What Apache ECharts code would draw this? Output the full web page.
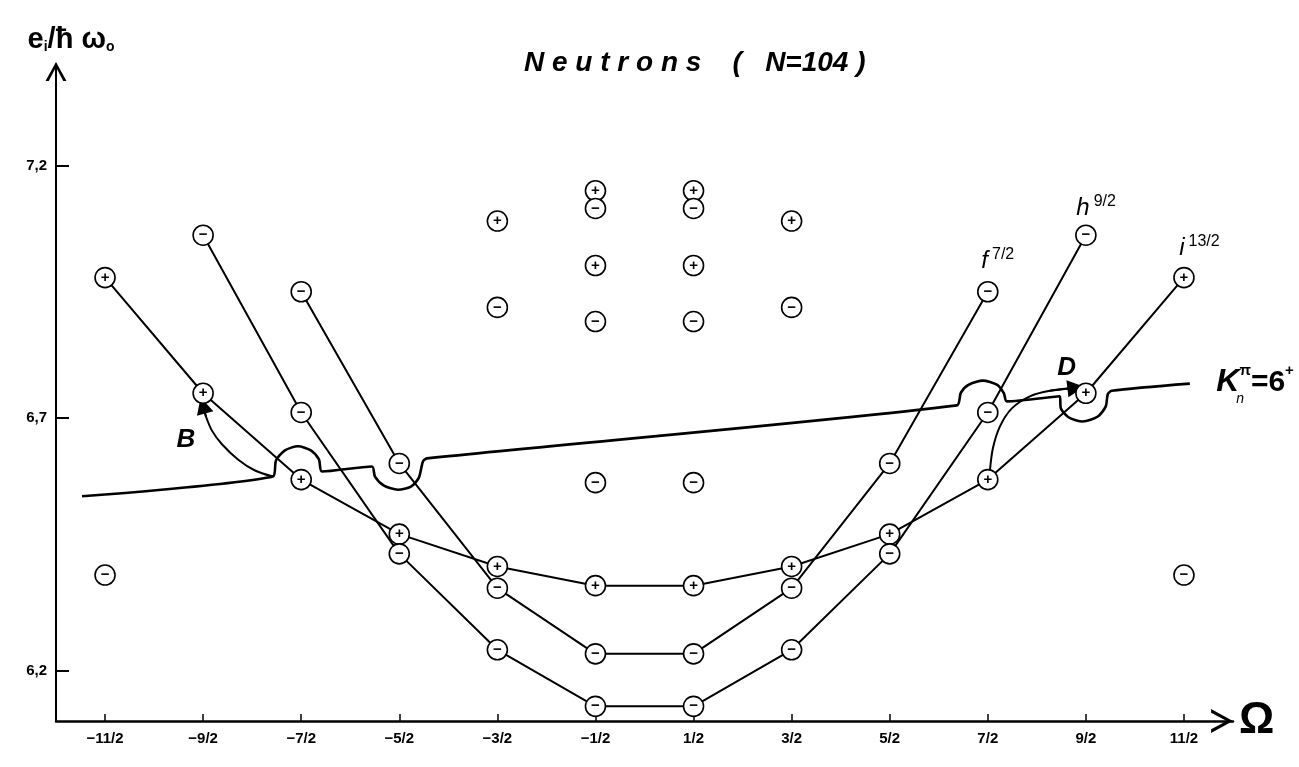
<!DOCTYPE html>
<html><head><meta charset="utf-8">
<script src="https://cdn.jsdelivr.net/npm/echarts@6/dist/echarts.min.js"></script>
<style>html,body{margin:0;padding:0;background:#fff}#c{width:1299px;height:767px}</style>
</head><body><div id="c"></div><script>
// ---- axis ticks ----
const omegaTicks = [-5.5, -4.5, -3.5, -2.5, -1.5, -0.5, 0.5, 1.5, 2.5, 3.5, 4.5, 5.5];
const omegaTickLabels = ['−11/2', '−9/2', '−7/2', '−5/2', '−3/2', '−1/2', '1/2', '3/2', '5/2', '7/2', '9/2', '11/2'];
const energyTicks = [6.2, 6.7, 7.2];
const energyTickLabels = ['6,2', '6,7', '7,2'];

// ---- orbitals (energy e_i / ħω0 versus Ω) ----
const i13Omega = [-5.5, -4.5, -3.5, -2.5, -1.5, -0.5, 0.5, 1.5, 2.5, 3.5, 4.5, 5.5];
const i13Energy = [6.978, 6.749, 6.578, 6.470, 6.406, 6.368, 6.368, 6.406, 6.470, 6.578, 6.749, 6.978];
const h9Omega = [-4.5, -3.5, -2.5, -1.5, -0.5, 0.5, 1.5, 2.5, 3.5, 4.5];
const h9Energy = [7.062, 6.711, 6.431, 6.241, 6.129, 6.129, 6.241, 6.431, 6.711, 7.062];
const f7Omega = [-3.5, -2.5, -1.5, -0.5, 0.5, 1.5, 2.5, 3.5];
const f7Energy = [6.950, 6.610, 6.363, 6.233, 6.233, 6.363, 6.610, 6.950];

// ---- other single-particle levels ----
const isoOmega  = [-5.5, -1.5, -1.5, -0.5, -0.5, -0.5, -0.5, -0.5, 0.5, 0.5, 0.5, 0.5, 0.5, 1.5, 1.5, 5.5];
const isoEnergy = [6.389, 7.090, 6.919, 7.150, 7.115, 7.002, 6.891, 6.572, 7.150, 7.115, 7.002, 6.891, 6.572, 7.090, 6.919, 6.389];
const isoParity = ['−', '+', '−', '+', '−', '+', '−', '−', '+', '−', '+', '−', '−', '+', '−', '−'];

// ---- K^π_n = 6+ line (with bumps around crossings) ----
const kOmega  = [-5.735, -3.788, -3.757, -3.666, -3.533, -3.401, -3.319, -3.288, -2.779, -2.748, -2.656, -2.514, -2.381, -2.300, -2.259, -2.218,
                 3.185, 3.225, 3.307, 3.450, 3.592, 3.664, 3.694, 4.234, 4.245, 4.327, 4.469, 4.622, 4.703, 4.723, 4.764, 5.560];
const kEnergy = [6.545, 6.584, 6.616, 6.636, 6.644, 6.636, 6.618, 6.594, 6.604, 6.584, 6.566, 6.558, 6.564, 6.582, 6.614, 6.620,
                 6.725, 6.750, 6.766, 6.774, 6.766, 6.749, 6.733, 6.743, 6.719, 6.701, 6.693, 6.703, 6.723, 6.747, 6.754, 6.768];

// ---- arrows B and D ----
const bOmega  = [-3.788, -3.971, -4.145, -4.308, -4.410, -4.471, -4.502];
const bEnergy = [6.584, 6.596, 6.618, 6.648, 6.675, 6.703, 6.725];
const dOmega  = [3.521, 3.552, 3.623, 3.745, 3.929, 4.133, 4.398];
const dEnergy = [6.594, 6.640, 6.683, 6.719, 6.743, 6.754, 6.760];

// ---- annotations ----
const annoOmega  = [3.439, 4.408, 5.457, -4.767, 4.214, 5.835, 6.039];
const annoEnergy = [6.986, 7.091, 7.012, 6.630, 6.772, 6.739, 6.723];
const annoText = ['{it|f}{fr|7/2}', '{it|h}{fr|9/2}', '{it|i}{fr|13/2}', '{bd|B}', '{bd|D}', '{kb|K}{ks|π}{ke|=6}{ks|+}', '{kn|n}'];

const FONT = 'Liberation Sans';
const toPairs = (xs, ys) => xs.map((x, i) => [x, ys[i]]);

const levelPoints = [];
i13Omega.forEach((o, i) => levelPoints.push([o, i13Energy[i], '+']));
h9Omega.forEach((o, i) => levelPoints.push([o, h9Energy[i], '−']));
f7Omega.forEach((o, i) => levelPoints.push([o, f7Energy[i], '−']));
isoOmega.forEach((o, i) => levelPoints.push([o, isoEnergy[i], isoParity[i]]));

const chevron = 'path://M0,20 L11,0 L22,20 L18.6,20 L11,5.6 L3.4,20 Z';
const lineStyle = { color: '#000', width: 2 };

const chart = echarts.init(document.getElementById('c'), null, { renderer: 'canvas' });
chart.setOption({
  backgroundColor: '#fff',
  animation: false,
  title: {
    text: 'N e u t r o n s    (   N=104 )',
    left: 519, top: 44,
    textStyle: { fontFamily: FONT, fontSize: 28, fontWeight: 'bold', fontStyle: 'italic', color: '#000' }
  },
  grid: { left: 56, right: 66, top: 64.5, bottom: 46 },
  xAxis: {
    type: 'value', min: -6, max: 6,
    name: 'Ω', nameLocation: 'end', nameGap: 6,
    nameTextStyle: { fontFamily: FONT, fontSize: 44, fontWeight: 'bold', color: '#000', verticalAlign: 'middle', padding: [0, 0, 6, 0] },
    axisLine: { onZero: false, lineStyle: { color: '#000', width: 2.5 }, symbol: ['none', chevron], symbolSize: [24, 23], symbolOffset: [0, -11] },
    axisTick: { show: true, inside: true, length: 7, lineStyle: { color: '#000', width: 1.5 }, customValues: omegaTicks },
    axisLabel: { customValues: omegaTicks, margin: 10, fontFamily: FONT, fontSize: 15, fontWeight: 'bold', color: '#000',
      formatter: v => omegaTickLabels[omegaTicks.indexOf(v)] },
    splitLine: { show: false }
  },
  yAxis: {
    type: 'value', min: 6.1, max: 7.4,
    name: '{b|e}{s|i}{b|/ħ ω}{s|o}', nameLocation: 'end', nameGap: 10,
    nameTextStyle: { align: 'center', padding: [0, 0, 0, 30],
      rich: {
        b: { fontFamily: FONT, fontSize: 29, fontWeight: 'bold', color: '#000', lineHeight: 32, verticalAlign: 'bottom' },
        s: { fontFamily: FONT, fontSize: 14, fontWeight: 'bold', color: '#000', lineHeight: 12, verticalAlign: 'bottom' }
      } },
    axisLine: { onZero: false, lineStyle: { color: '#000', width: 2 }, symbol: ['none', chevron], symbolSize: [21, 20], symbolOffset: [0, -7] },
    axisTick: { show: true, inside: true, length: 13, lineStyle: { color: '#000', width: 2 }, customValues: energyTicks },
    axisLabel: { customValues: energyTicks, margin: 9, fontFamily: FONT, fontSize: 15, fontWeight: 'bold', color: '#000',
      formatter: v => energyTickLabels[energyTicks.indexOf(v)] },
    splitLine: { show: false }
  },
  series: [
    { name: 'i13/2', type: 'line', data: toPairs(i13Omega, i13Energy), symbol: 'none', lineStyle, z: 2 },
    { name: 'h9/2', type: 'line', data: toPairs(h9Omega, h9Energy), symbol: 'none', lineStyle, z: 2 },
    { name: 'f7/2', type: 'line', data: toPairs(f7Omega, f7Energy), symbol: 'none', lineStyle, z: 2 },
    { name: 'K=6+', type: 'line', data: toPairs(kOmega, kEnergy), symbol: 'none', smooth: 0.25,
      lineStyle: { color: '#000', width: 2.6 }, z: 2 },
    { name: 'B', type: 'line', data: toPairs(bOmega, bEnergy), symbol: 'none', smooth: 0.3, lineStyle, z: 2 },
    { name: 'D', type: 'line', data: toPairs(dOmega, dEnergy), symbol: 'none', smooth: 0.3, lineStyle, z: 2 },
    { name: 'arrowheads', type: 'lines', coordinateSystem: 'cartesian2d', symbol: ['none', 'triangle'], symbolSize: 17,
      lineStyle: { color: '#000', width: 2, opacity: 1 }, itemStyle: { color: '#000' }, z: 3,
      data: [
        { coords: [[bOmega[bOmega.length - 2], bEnergy[bEnergy.length - 2]], [bOmega[bOmega.length - 1], bEnergy[bEnergy.length - 1]]] },
        { coords: [[dOmega[dOmega.length - 2], dEnergy[dEnergy.length - 2]], [dOmega[dOmega.length - 1], dEnergy[dEnergy.length - 1]]] }
      ] },
    { name: 'levels', type: 'scatter', data: levelPoints, symbol: 'circle', symbolSize: 20, z: 5,
      itemStyle: { color: '#fff', borderColor: '#000', borderWidth: 1.6, opacity: 1 },
      label: { show: true, position: 'inside', formatter: p => p.value[2], fontFamily: FONT, fontSize: 15, fontWeight: 'bold', color: '#000' } },
    { name: 'annotations', type: 'scatter', clip: false, data: toPairs(annoOmega, annoEnergy), symbol: 'circle', symbolSize: 1, z: 6,
      itemStyle: { color: 'rgba(255,255,255,0)', opacity: 1 },
      label: { show: true, position: [0, 0], align: 'left', verticalAlign: 'bottom', color: '#000', opacity: 1, formatter: p => annoText[p.dataIndex],
        rich: {
          it: { fontFamily: FONT, fontSize: 24, fontStyle: 'italic', color: '#000', lineHeight: 26, verticalAlign: 'bottom' },
          fr: { fontFamily: FONT, fontSize: 16, color: '#000', lineHeight: 16, verticalAlign: 'top', padding: [0, 0, 0, 4] },
          bd: { fontFamily: FONT, fontSize: 26, fontStyle: 'italic', fontWeight: 'bold', color: '#000', lineHeight: 26 },
          kb: { fontFamily: FONT, fontSize: 32, fontStyle: 'italic', fontWeight: 'bold', color: '#000', lineHeight: 34, verticalAlign: 'bottom' },
          ks: { fontFamily: FONT, fontSize: 15, fontWeight: 'bold', color: '#000', lineHeight: 15, verticalAlign: 'top' },
          ke: { fontFamily: FONT, fontSize: 30, fontWeight: 'bold', color: '#000', lineHeight: 34, verticalAlign: 'bottom' },
          kn: { fontFamily: FONT, fontSize: 14, fontStyle: 'italic', color: '#000', lineHeight: 14 }
        } } }
  ]
});
</script></body></html>
